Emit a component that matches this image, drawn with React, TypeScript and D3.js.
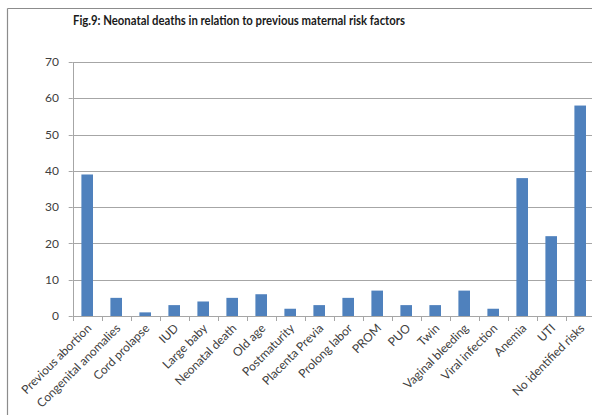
import React from "react";
import * as d3 from "d3";

const categories = [
  "Previous abortion",
  "Congenital anomalies",
  "Cord prolapse",
  "IUD",
  "Large baby",
  "Neonatal death",
  "Old age",
  "Postmaturity",
  "Placenta Previa",
  "Prolong labor",
  "PROM",
  "PUO",
  "Twin",
  "Vaginal bleeding",
  "Viral infection",
  "Anemia",
  "UTI",
  "No identified risks",
];
const deaths = [39, 5, 1, 3, 4, 5, 6, 2, 3, 5, 7, 3, 3, 7, 2, 38, 22, 58];
const yTicks = [0, 10, 20, 30, 40, 50, 60, 70];
const title = "Fig.9: Neonatal deaths in relation to previous maternal risk factors";

const W = 592;
const H = 415;
const plot = { left: 72.7, right: 594.7, top: 62, bottom: 316 };
const font = "Lato, 'Open Sans', sans-serif";

export default function App() {
  const x = d3
    .scaleBand<string>()
    .domain(categories)
    .range([plot.left, plot.right])
    .paddingInner(0.6)
    .paddingOuter(0.3);
  const step = x.step();
  const y = d3.scaleLinear().domain([0, 70]).range([plot.bottom, plot.top]);

  return (
    <svg
      width={W}
      height={H}
      style={{ position: "absolute", left: 0, top: 0, background: "#fff" }}
      fontFamily={font}
    >
      {/* frame */}
      <line x1={7.5} x2={W} y1={8.5} y2={8.5} stroke="#8c8c8c" strokeWidth={1.2} />
      <line x1={7.5} x2={7.5} y1={8.5} y2={H} stroke="#8c8c8c" strokeWidth={1.2} />

      <text
        x={73}
        y={25}
        fontSize={12.5}
        fontWeight="bold"
        fill="#1a1a1a"
        textLength={332}
        lengthAdjust="spacingAndGlyphs"
      >
        {title}
      </text>

      {/* gridlines and y labels */}
      {yTicks.map((t) => (
        <g key={t}>
          {t > 0 && (
            <line
              x1={plot.left}
              x2={W}
              y1={Math.round(y(t)) + 0.5}
              y2={Math.round(y(t)) + 0.5}
              stroke="#a6a6a6"
              strokeWidth={1}
            />
          )}
          <line
            x1={plot.left - 4}
            x2={plot.left}
            y1={Math.round(y(t)) + 0.5}
            y2={Math.round(y(t)) + 0.5}
            stroke="#a6a6a6"
          />
          <text
            x={59}
            y={y(t)}
            dy="0.35em"
            textAnchor="end"
            fontSize={12}
            fill="#404040"
          >
            {t}
          </text>
        </g>
      ))}

      {/* bars */}
      {deaths.map((v, i) => (
        <rect
          key={categories[i]}
          x={x(categories[i])}
          y={y(v)}
          width={x.bandwidth()}
          height={y(0) - y(v)}
          fill="#4f81bd"
        />
      ))}

      {/* axes */}
      <line
        x1={Math.round(plot.left) + 0.5}
        x2={Math.round(plot.left) + 0.5}
        y1={plot.top}
        y2={plot.bottom}
        stroke="#a6a6a6"
      />
      <line
        x1={plot.left}
        x2={W}
        y1={Math.round(plot.bottom) + 0.5}
        y2={Math.round(plot.bottom) + 0.5}
        stroke="#a6a6a6"
      />
      {categories.map((c, i) => {
        const tx = Math.round(plot.left + i * step) + 0.5;
        return (
          <line
            key={"t" + c}
            x1={tx}
            x2={tx}
            y1={plot.bottom}
            y2={plot.bottom + 5}
            stroke="#a6a6a6"
          />
        );
      })}

      {/* category labels */}
      {categories.map((c) => {
        const cx = (x(c) ?? 0) + x.bandwidth() / 2 + 2;
        const cy = plot.bottom + 10;
        return (
          <text
            key={"l" + c}
            transform={`translate(${cx},${cy}) rotate(-45)`}
            textAnchor="end"
            dy="0.35em"
            fontSize={12}
            fill="#404040"
          >
            {c}
          </text>
        );
      })}
    </svg>
  );
}
